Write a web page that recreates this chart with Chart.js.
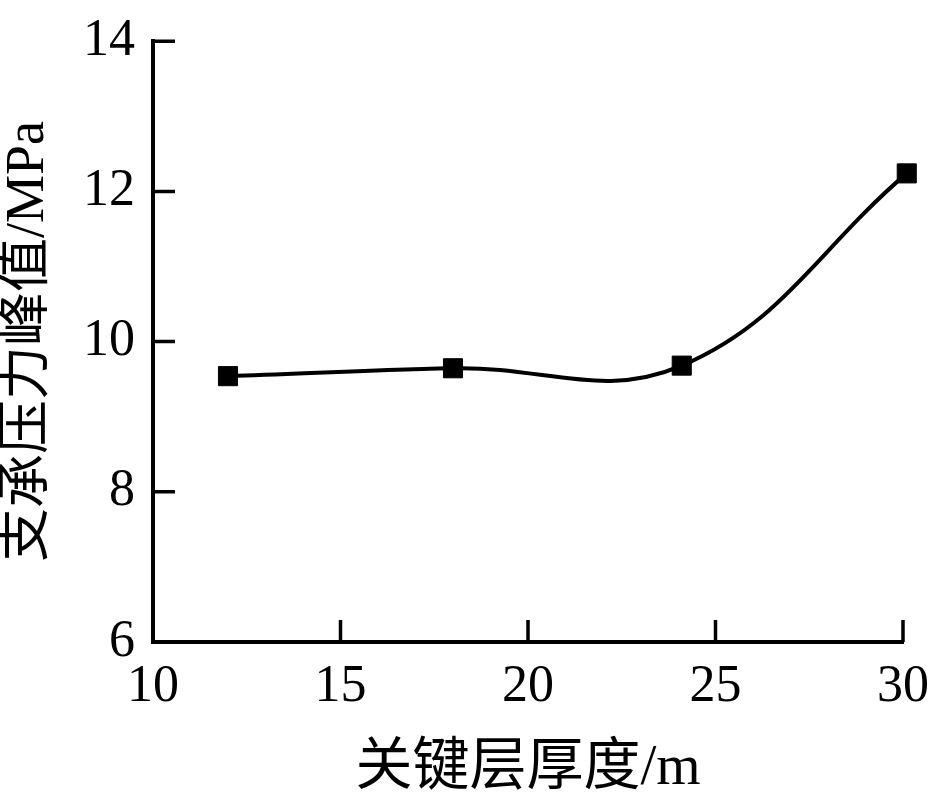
<!DOCTYPE html>
<html>
<head>
<meta charset="utf-8">
<script src="https://cdn.jsdelivr.net/npm/chart.js@4.4.0/dist/chart.umd.min.js"></script>
<style>
html,body{margin:0;padding:0;background:#fff;}
#wrap{width:935px;height:798px;position:relative;}
</style>
</head>
<body>
<div id="wrap"><canvas id="c" width="935" height="798"></canvas></div>
<script>
const thickness = [12, 18, 24.1, 30.1];
const peakStress = [9.54, 9.645, 9.68, 12.24];
const xTicks = [10, 15, 20, 25, 30];
const yTicks = [6, 8, 10, 12, 14];
const xTitle = '关键层厚度/m';
const yTitle = '支承压力峰值/MPa';

const FONT = '"Liberation Serif", "Times New Roman", "Noto Sans CJK SC", serif';

const inwardTicks = {
  id: 'inwardTicks',
  afterDraw(chart) {
    const ctx = chart.ctx;
    const xs = chart.scales.x, ys = chart.scales.y;
    const len = 22;
    ctx.save();
    ctx.strokeStyle = '#000';
    ctx.lineWidth = 3.5;
    ctx.beginPath();
    xTicks.forEach(v => {
      const px = xs.getPixelForValue(v);
      ctx.moveTo(px, ys.bottom);
      ctx.lineTo(px, ys.bottom - len);
    });
    yTicks.forEach(v => {
      const py = ys.getPixelForValue(v);
      ctx.moveTo(xs.left, py);
      ctx.lineTo(xs.left + len, py);
    });
    ctx.stroke();
    ctx.restore();
  }
};

new Chart(document.getElementById('c'), {
  type: 'line',
  data: {
    datasets: [{
      data: thickness.map((x, i) => ({x: x, y: peakStress[i]})),
      borderColor: '#000',
      backgroundColor: '#000',
      borderWidth: 4,
      tension: 0.4,
      clip: false,
      pointStyle: 'rect',
      pointRadius: 13.5,
      pointBorderWidth: 1,
      pointBackgroundColor: '#000',
      pointBorderColor: '#000',
      fill: false
    }]
  },
  options: {
    responsive: false,
    animation: false,
    devicePixelRatio: 1,
    layout: {padding: {top: 40, right: 30, left: 0, bottom: 0}},
    plugins: {legend: {display: false}, tooltip: {enabled: false}},
    scales: {
      x: {
        type: 'linear',
        min: 10, max: 30,
        afterFit(s) { s.height = 156; },
        afterBuildTicks(s) { s.ticks = xTicks.map(v => ({value: v})); },
        grid: {display: false},
        border: {display: true, color: '#000', width: 4},
        ticks: {color: '#000', font: {family: FONT, size: 52}, padding: 6, maxRotation: 0, autoSkip: false},
        title: {display: true, text: xTitle, color: '#000', font: {family: FONT, size: 57, lineHeight: 1}, padding: {top: 13, bottom: 0}}
      },
      y: {
        type: 'linear',
        min: 6, max: 14,
        afterFit(s) { s.width = 153; },
        afterBuildTicks(s) { s.ticks = yTicks.map(v => ({value: v})); },
        grid: {display: false},
        border: {display: true, color: '#000', width: 4},
        ticks: {color: '#000', font: {family: FONT, size: 52}, padding: 10, autoSkip: false},
        title: {display: true, text: yTitle, color: '#000', font: {family: FONT, size: 54, lineHeight: 1}, padding: {top: 2, bottom: 0}}
      }
    }
  },
  plugins: [inwardTicks]
});
</script>
</body>
</html>
